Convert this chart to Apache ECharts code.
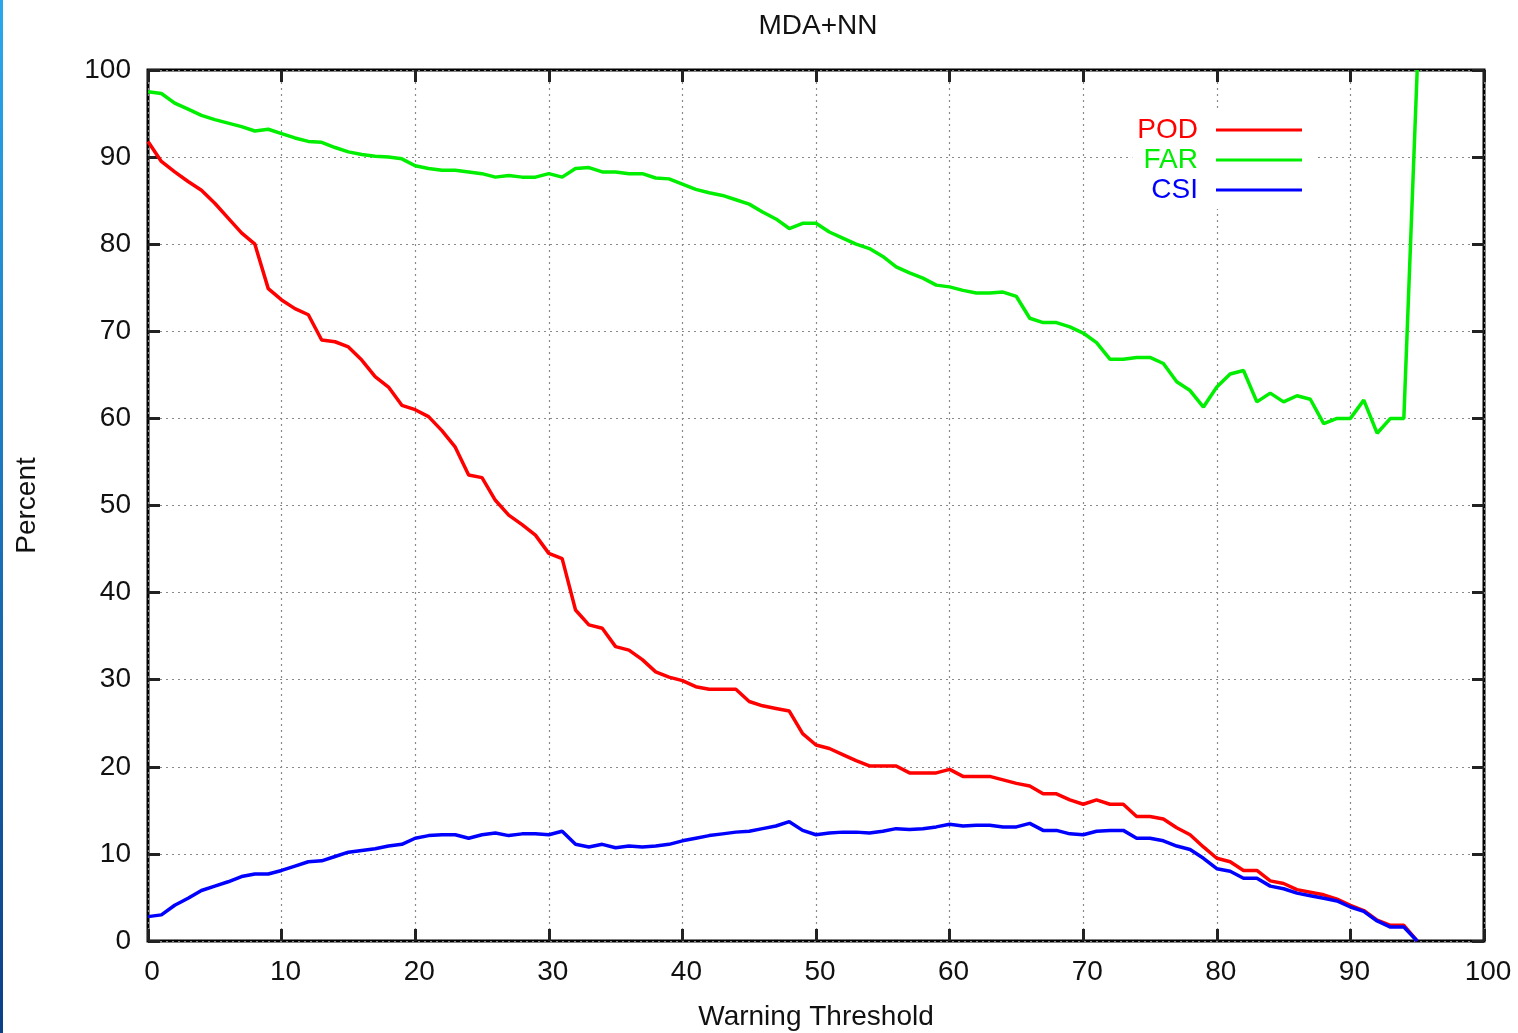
<!DOCTYPE html>
<html>
<head>
<meta charset="utf-8">
<script src="https://cdn.jsdelivr.net/npm/echarts@6/dist/echarts.min.js"></script>
<style>
  html, body { margin: 0; padding: 0; background: #fff; }
  #chart { width: 1518px; height: 1033px; }
  #edge { position: absolute; left: 0; top: 0; width: 3px; height: 1033px;
          background: linear-gradient(to bottom, #2aa8ee, #0b3f86); }
</style>
</head>
<body>
<div id="chart"></div>
<div id="edge"></div>
<script>
const thresholds = [0,1,2,3,4,5,6,7,8,9,10,11,12,13,14,15,16,17,18,19,20,21,22,23,24,25,26,27,28,29,30,31,32,33,34,35,36,37,38,39,40,41,42,43,44,45,46,47,48,49,50,51,52,53,54,55,56,57,58,59,60,61,62,63,64,65,66,67,68,69,70,71,72,73,74,75,76,77,78,79,80,81,82,83,84,85,86,87,88,89,90,91,92,93,94,95];

const pod = [91.8,89.5,88.3,87.2,86.2,84.7,83.0,81.3,80.0,74.9,
  73.6,72.6,71.9,69.0,68.8,68.2,66.7,64.8,63.6,61.5,
  61.0,60.2,58.6,56.7,53.5,53.2,50.6,48.9,47.8,46.6,
  44.5,43.9,38.0,36.3,35.9,33.8,33.4,32.3,30.9,30.3,
  29.9,29.2,28.9,28.9,28.9,27.5,27.0,26.7,26.4,23.8,
  22.5,22.1,21.4,20.7,20.1,20.1,20.1,19.3,19.3,19.3,
  19.7,18.9,18.9,18.9,18.5,18.1,17.8,16.9,16.9,16.2,
  15.7,16.2,15.7,15.7,14.3,14.3,14.0,13.0,12.2,10.8,
  9.5,9.1,8.1,8.1,6.9,6.6,5.9,5.6,5.3,4.8,
  4.1,3.5,2.4,1.8,1.8,0];

const far = [97.5,97.3,96.2,95.5,94.8,94.3,93.9,93.5,93.0,93.2,
  92.7,92.2,91.8,91.7,91.1,90.6,90.3,90.1,90.0,89.8,
  89.0,88.7,88.5,88.5,88.3,88.1,87.7,87.9,87.7,87.7,
  88.1,87.7,88.7,88.8,88.3,88.3,88.1,88.1,87.6,87.5,
  86.9,86.3,85.9,85.6,85.1,84.6,83.7,82.9,81.8,82.4,
  82.4,81.4,80.7,80.0,79.5,78.6,77.4,76.7,76.1,75.3,
  75.1,74.7,74.4,74.4,74.5,74.0,71.5,71.0,71.0,70.5,
  69.8,68.7,66.8,66.8,67.0,67.0,66.3,64.2,63.2,61.3,
  63.6,65.1,65.5,61.9,62.9,61.9,62.6,62.2,59.4,60.0,
  60.0,62.1,58.3,60.0,60.0,100];

const csi = [2.8,3.0,4.1,4.9,5.8,6.3,6.8,7.4,7.7,7.7,
  8.1,8.6,9.1,9.2,9.7,10.2,10.4,10.6,10.9,11.1,
  11.8,12.1,12.2,12.2,11.8,12.2,12.4,12.1,12.3,12.3,
  12.2,12.6,11.1,10.8,11.1,10.7,10.9,10.8,10.9,11.1,
  11.5,11.8,12.1,12.3,12.5,12.6,12.9,13.2,13.7,12.7,
  12.2,12.4,12.5,12.5,12.4,12.6,12.9,12.8,12.9,13.1,
  13.4,13.2,13.3,13.3,13.1,13.1,13.5,12.7,12.7,12.3,
  12.2,12.6,12.7,12.7,11.8,11.8,11.5,10.9,10.5,9.5,
  8.3,8.0,7.2,7.2,6.3,6.0,5.5,5.2,4.9,4.6,
  3.9,3.4,2.3,1.6,1.6,0];

const seriesNames = ['POD', 'FAR', 'CSI'];
const seriesColors = ['#ff0000', '#00ee00', '#0000ff'];
const seriesValues = [pod, far, csi];

const FONT = '"Liberation Sans", Arial, sans-serif';
const chart = echarts.init(document.getElementById('chart'), null, { renderer: 'canvas' });

const tickStyle = { show: true, inside: true, length: 12, lineStyle: { color: '#222', width: 3 } };
const gridLine = { show: true, lineStyle: { color: '#8a8a8a', width: 1.2, type: [2, 4] } };
const noLine = { show: false, onZero: false };

chart.setOption({
  backgroundColor: '#fff',
  animation: false,
  title: {
    text: 'MDA+NN', left: 813, textAlign: 'center', top: 7,
    textStyle: { fontFamily: FONT, fontSize: 28, fontWeight: 'normal', color: '#111' }
  },
  legend: {
    orient: 'vertical', right: 200, top: 111,
    align: 'right', icon: 'rect', itemWidth: 86, itemHeight: 3, itemGap: 2,
    padding: [5, 16, 5, 5],
    backgroundColor: '#fff',
    selectedMode: false,
    textStyle: { fontFamily: FONT, fontSize: 28, lineHeight: 28, padding: [0, 13, 0, 0] },
    data: seriesNames.map((n, i) => ({ name: n, textStyle: { color: seriesColors[i] } }))
  },
  grid: {
    left: 148, right: 34, top: 70, bottom: 92,
    outerBoundsMode: 'none', containLabel: false,
    show: true, borderColor: '#000', borderWidth: 3, backgroundColor: 'transparent'
  },
  xAxis: [
    {
      type: 'value', min: 0, max: 100, interval: 10, position: 'bottom',
      name: 'Warning Threshold', nameLocation: 'middle', nameGap: 62,
      nameTextStyle: { fontFamily: FONT, fontSize: 28, color: '#111' },
      axisLine: noLine,
      axisTick: tickStyle,
      axisLabel: { fontFamily: FONT, fontSize: 28, color: '#111', margin: 17, padding: [0, 0, 0, 8] },
      splitLine: gridLine
    },
    {
      type: 'value', min: 0, max: 100, interval: 10, position: 'top',
      axisLine: noLine, axisTick: tickStyle,
      axisLabel: { show: false }, splitLine: { show: false }
    }
  ],
  yAxis: [
    {
      type: 'value', min: 0, max: 100, interval: 10, position: 'left',
      name: 'Percent', nameLocation: 'middle', nameGap: 107,
      nameTextStyle: { fontFamily: FONT, fontSize: 28, color: '#111' },
      axisLine: noLine,
      axisTick: tickStyle,
      axisLabel: { fontFamily: FONT, fontSize: 28, color: '#111', margin: 17 },
      splitLine: gridLine
    },
    {
      type: 'value', min: 0, max: 100, interval: 10, position: 'right',
      axisLine: noLine, axisTick: tickStyle,
      axisLabel: { show: false }, splitLine: { show: false }
    }
  ],
  series: seriesNames.map((n, i) => ({
    name: n, type: 'line', xAxisIndex: 0, yAxisIndex: 0,
    showSymbol: false, symbol: 'none', smooth: false,
    lineStyle: { color: seriesColors[i], width: 3.5 },
    itemStyle: { color: seriesColors[i] },
    data: thresholds.map((t, k) => [t, seriesValues[i][k]])
  }))
});
</script>
</body>
</html>
